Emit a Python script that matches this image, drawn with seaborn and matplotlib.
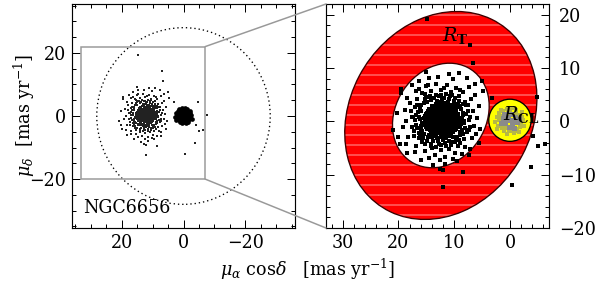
import numpy as np
import matplotlib
matplotlib.use("Agg")
import matplotlib.pyplot as plt
from matplotlib.patches import Ellipse, Rectangle, Circle, ConnectionPatch
import seaborn as sns

# proper motions of field stars (mas/yr)
field_x = [12.1, 13.0, 11.4,
           10.6, 11.3, 11.9, 12.6, 13.2, 13.9,
           9.9, 10.5, 11.1, 11.8, 12.4, 13.0, 13.6, 14.3,
           9.5, 10.1, 10.8, 11.4, 12.0, 12.6, 13.2, 13.8, 14.5, 15.1,
           9.2, 9.8, 10.5, 11.1, 11.7, 12.3, 12.9, 13.5, 14.1, 14.8, 15.4,
           9.0, 9.6, 10.2, 10.9, 11.5, 12.1, 12.7, 13.3, 13.9, 14.5, 15.2,
           9.1, 9.7, 10.4, 11.0, 11.6, 12.2, 12.8, 13.4, 14.0, 14.7, 15.4,
           9.3, 9.9, 10.6, 11.2, 11.8, 12.4, 13.0, 13.6, 14.3, 15.0,
           9.6, 10.2, 10.9, 11.5, 12.1, 12.7, 13.3, 14.0, 14.7,
           10.0, 10.7, 11.3, 11.9, 12.5, 13.2, 13.9, 14.5,
           10.6, 11.3, 11.9, 12.6, 13.3, 13.9,
           11.6, 12.4, 13.1,
           11.0, 11.7, 12.3, 13.5,
           10.2, 10.9, 11.6, 12.2, 12.9, 13.6, 14.2,
           9.7, 10.4, 11.0, 11.7, 12.3, 12.9, 13.5, 14.1, 14.8,
           9.4, 10.0, 10.7, 11.3, 11.9, 12.5, 13.1, 13.8, 14.4, 15.0,
           9.3, 9.9, 10.6, 11.2, 11.8, 12.4, 13.0, 13.6, 14.3, 14.9, 15.6,
           9.4, 10.0, 10.6, 11.2, 11.9, 12.5, 13.1, 13.7, 14.3, 15.0,
           9.5, 10.1, 10.8, 11.4, 12.0, 12.6, 13.2, 13.9, 14.5, 15.2,
           9.7, 10.3, 11.0, 11.6, 12.2, 12.9, 13.5, 14.1, 14.8,
           10.1, 10.8, 11.4, 12.0, 12.7, 13.4, 14.0,
           10.8, 11.5, 12.2, 12.9, 13.6,
           11.2, 11.9, 12.8,
           16.2, 16.0, 16.5, 15.9, 15.3, 14.6, 13.7, 12.8, 11.9, 10.9, 10.1, 9.3, 8.7, 8.4, 8.2, 8.6,
           9.0, 9.7, 10.5, 11.6, 12.8, 13.8, 14.7, 15.4, 16.8, 17.1, 16.6, 15.7, 14.2, 12.4, 10.6, 9.2,
           8.1, 7.6, 7.3, 7.7, 8.3, 9.4, 10.9, 12.3, 13.9, 15.2, 16.3, 17.3, 17.6, 17.9, 16.9, 15.0,
           13.2, 11.3, 9.6, 8.4, 7.0, 6.6, 6.4, 6.9, 8.0, 9.8, 11.6, 13.4, 15.3, 16.8, 18.2, 18.6, 18.9,
           16.8, 16.1, 15.6, 14.9, 14.1, 13.1, 12.2, 11.1, 10.0, 9.3, 8.6, 8.9, 8.4, 9.5, 10.2,
           11.0, 12.0, 12.9, 13.9, 14.6, 15.8, 16.4, 17.4, 15.3, 10.4, 7.9, 7.2, 9.0, 14.2, 17.6,
           16.0, 16.3, 15.9, 16.1, 15.5, 15.7, 16.6, 17.0, 16.7, 8.8, 8.5, 8.9, 8.2, 8.9, 8.0,
           7.8, 8.4, 9.1, 9.9, 10.7, 11.5, 12.4, 13.3, 14.3, 15.0, 9.8, 10.6, 11.4, 12.3, 13.2,
           14.1, 14.9, 15.8, 9.2, 17.2, 17.8, 7.1, 7.4, 7.5, 8.9, 11.9, 14.7, 16.3, 18.4, 19.2,
           18.7, 17.1, 14.6, 12.5, 10.3, 8.6, 7.2, 6.1, 5.9, 6.3, 7.3, 10.2, 12.9, 17.6, 20.1,
           14.6, 11.0, 7.7, 16.4, 6.2, 19.5, 20.3, 20.9, 19.8, 18.4, 16.0, 13.8, 11.6, 9.5, 7.3, 5.6,
           5.3, 5.5, 12.6, 15.0, 9.2, 4.8,
           14.8, 7.1, 6.6, 19.5, 5.0, 3.2, -4.8, -4.1, -5.0, -6.3, -3.7, -0.4, 8.4, 12.0, 12.1, -7.5]
field_y = [-2.9, -3.1, -3.2,
           -2.3, -2.5, -2.4, -2.2, -2.6, -2.4,
           -1.7, -1.9, -1.8, -1.6, -1.9, -1.7, -1.9, -1.7,
           -1.1, -1.3, -1.2, -1.0, -1.3, -1.1, -1.3, -1.0, -1.2, -1.1,
           -0.5, -0.7, -0.6, -0.4, -0.7, -0.5, -0.7, -0.5, -0.6, -0.4, -0.6,
           0.1, -0.1, 0.1, 0.0, 0.2, -0.1, 0.1, -0.1, 0.2, 0.0, 0.1,
           0.7, 0.5, 0.7, 0.6, 0.8, 0.5, 0.7, 0.6, 0.8, 0.5, 0.7,
           1.3, 1.1, 1.2, 1.4, 1.1, 1.3, 1.2, 1.4, 1.1, 1.3,
           1.9, 1.7, 1.9, 1.8, 2.0, 1.7, 1.9, 1.8, 2.0,
           2.5, 2.3, 2.5, 2.4, 2.6, 2.3, 2.5, 2.4,
           3.1, 2.9, 3.1, 3.0, 3.2, 2.9,
           3.5, 3.7, 3.6,
           -2.8, -2.7, -2.9, -2.8,
           -2.0, -2.2, -2.1, -2.0, -2.2, -2.3, -2.0,
           -1.5, -1.4, -1.6, -1.4, -1.5, -1.4, -1.6, -1.4, -1.5,
           -0.9, -1.0, -0.8, -0.9, -1.0, -0.8, -0.9, -0.8, -0.9, -0.8,
           -0.3, -0.2, -0.4, -0.2, -0.3, -0.2, -0.4, -0.2, -0.3, -0.2, -0.3,
           0.3, 0.4, 0.2, 0.4, 0.3, 0.4, 0.2, 0.4, 0.3, 0.4,
           0.9, 0.8, 1.0, 0.9, 0.8, 1.0, 0.9, 1.0, 0.8, 1.0,
           1.5, 1.6, 1.5, 1.6, 1.5, 1.6, 1.4, 1.6, 1.5,
           2.1, 2.2, 2.1, 2.2, 2.1, 2.2, 2.1,
           2.7, 2.8, 2.7, 2.8, 2.6,
           3.3, 3.4, 3.3,
           0.4, -1.5, 1.8, 3.0, 4.2, 4.6, 4.3, 4.8, 4.4, 4.1, 3.8, 3.3, 2.4, 1.1, -0.3, -1.6,
           -2.6, -3.3, -3.9, -4.1, -4.2, -3.7, -3.0, -2.3, -0.6, 2.6, 4.1, 5.3, 5.7, 5.9, 5.5, 4.8,
           3.7, 1.9, 0.2, -2.0, -3.4, -4.6, -5.1, -5.4, -5.0, -4.3, -3.2, -1.8, 0.8, 3.5, 5.6, 6.6,
           7.0, 6.8, 6.3, 5.5, 4.1, 2.0, -0.9, -3.2, -4.9, -6.0, -6.6, -6.3, -5.6, -4.6, -2.9, 0.1, 2.2,
           1.2, 2.4, -3.2, 3.6, 4.0, 3.9, 4.2, 3.6, 3.1, 2.6, 0.4, -1.0, -2.3, -2.9, -3.0,
           -3.6, -3.5, -3.6, -3.0, -2.5, -0.4, -2.2, 0.9, 5.1, 5.0, 3.0, -1.0, -4.0, -4.7, -1.1,
           -0.9, 0.9, 2.0, -2.6, 3.4, -1.8, -1.3, 0.3, 3.0, -0.5, 1.6, 2.9, 0.0, -2.0, -1.2,
           1.3, 3.2, 3.9, 4.4, 4.7, 5.1, 4.9, 5.0, 4.8, 4.5, -3.8, -4.4, -4.7, -4.5, -4.9,
           -4.2, -3.7, -3.8, -3.5, -2.7, 1.9, 0.9, -1.7, 3.0, 5.9, 6.3, 6.9, 6.1, 4.4, -1.0,
           -4.3, -5.8, -6.8, -7.2, -7.0, -6.2, -5.1, -2.4, 0.6, 4.9, 6.4, 8.0, 8.4, 6.8, -2.9,
           8.2, 8.8, 8.1, 7.6, 7.0, 5.3, 1.5, -1.6, -4.2, -6.0, -7.3, -8.2, -8.0, -7.4, -6.3, -4.1,
           -1.5, 2.9, -8.9, 9.2, 9.0, 5.6,
           19.2, 14.4, 11.0, 6.0, 7.5, 4.3, 4.5, -2.8, -4.7, -4.3, -8.6, -12.0, -9.5, -9.2, -12.4, 0.3]

# cluster members (NGC6656)
clus_x = [0.0, 0.6, -0.6, 0.3, -0.3, 0.9, -0.9, 0.2, -0.2, 1.3, -1.3, 1.1, -1.1, 0.8, -0.8, 1.6,
          -1.6, 0.4, -0.5, 1.7, -1.7, 1.4, -1.3, 0.0, 0.1, 2.0, -2.0, 1.2, -1.0, 1.0, -1.2, 2.1,
          -2.1, 1.9, -1.8, 0.6, -0.4, 0.5, -0.7, 2.4, -2.4, 2.3, -2.2, 1.6, -1.6, 2.6, -2.6]
clus_y = [0.2, 0.3, 0.1, 0.9, -0.5, -0.4, 0.8, -1.1, 1.4, 0.6, -0.2, 1.3, 1.5, -1.3, -1.2, -0.3,
          0.5, 1.9, -1.8, 1.0, 1.2, -1.3, -1.4, 2.1, -1.9, 0.3, -0.3, 1.9, 2.1, -1.9, -1.9, -0.9,
          0.9, 1.6, -1.1, 2.4, 2.5, -2.3, -2.2, 0.9, 0.2, -1.4, 1.7, 2.1, -2.0, -0.2, -0.9]

zoom_x = (33, -7)
zoom_y = (-20, 22)

sns.set_theme(style="ticks")
plt.rcParams["font.family"] = ["DejaVu Serif"]
plt.rcParams["mathtext.fontset"] = "dejavuserif"
plt.rcParams["hatch.linewidth"] = 0.6
plt.rcParams["text.color"] = "black"
fs = 10.5

fig = plt.figure(figsize=(5, 2.4), dpi=120)
ax1 = fig.add_axes([0.12, 0.2083, 0.3717, 0.7778])
ax2 = fig.add_axes([0.5433, 0.2083, 0.3717, 0.7778])

for ax in (ax1, ax2):
    ax.set_facecolor("white")
    for sp in ax.spines.values():
        sp.set_linewidth(0.7)
        sp.set_color("black")
    ax.tick_params(which="both", direction="in", top=True, right=True, width=0.6,
                   labelsize=fs, colors="black")
    ax.tick_params(which="major", length=5)
    ax.tick_params(which="minor", length=2.5)

# left panel: full field
ax1.add_patch(Circle((0, 0), 28, fill=False, ls=(0, (1, 2.2)), lw=0.8, color="black"))
sns.scatterplot(x=field_x, y=field_y, ax=ax1, marker="s", s=0.8, color="#222222",
                linewidth=0, legend=False)
sns.scatterplot(x=clus_x, y=clus_y, ax=ax1, marker="o", s=8, color="black",
                linewidth=0, legend=False)
ax1.add_patch(Rectangle((zoom_x[1], zoom_y[0]), zoom_x[0] - zoom_x[1], zoom_y[1] - zoom_y[0],
                        fill=False, ec="#999999", lw=0.9))
ax1.set_xlim(36, -36)
ax1.set_ylim(-35.5, 35.5)
ax1.set_xticks([20, 0, -20])
ax1.set_yticks([20, 0, -20])
ax1.set_xticks(np.arange(-35, 36, 5), minor=True)
ax1.set_yticks(np.arange(-35, 36, 5), minor=True)
ax1.text(32.5, -30.8, "NGC6656", fontsize=fs)

# right panel: zoom with selection regions
ax2.add_patch(Ellipse((12.4, 1.1), 40.4, 32.8, angle=116.7, fc="#ff0000", ec="none", zorder=1))
ax2.add_patch(Ellipse((12.4, 1.1), 40.4, 32.8, angle=116.7, fill=False, ec="#ff9a9a",
                      lw=0, hatch="--", zorder=1.1))
ax2.add_patch(Ellipse((12.4, 1.1), 40.4, 32.8, angle=116.7, fill=False, ec="#3a0000",
                      lw=0.8, zorder=1.2))
ax2.add_patch(Ellipse((12.4, 1.1), 20.4, 16.4, angle=117.7, fc="white", ec="#3a0000",
                      lw=0.8, zorder=1.3))
ax2.add_patch(Ellipse((0, 0.2), 7.6, 7.9, fc="#ffff00", ec="black", lw=0.8, zorder=1.4))

cx = np.array(clus_x)
cy = np.array(clus_y)
core = np.hypot(cx, cy - 0.2) < 1.7
sns.scatterplot(x=cx[~core], y=cy[~core], ax=ax2, marker="s", s=5, color="#b7b845",
                linewidth=0, legend=False, zorder=2)
sns.scatterplot(x=cx[core], y=cy[core], ax=ax2, marker="s", s=9, color="#8a8a8a",
                linewidth=0, legend=False, zorder=2.1)
sns.scatterplot(x=field_x, y=field_y, ax=ax2, marker="s", s=3.4, color="black",
                linewidth=0, legend=False, zorder=3)
ax2.text(9.8, 15.0, r"$R_{\mathbf{T}}$", fontsize=fs + 1, ha="center", zorder=4)
ax2.text(1.3, 0.2, r"$R_{\mathbf{CL}}$", fontsize=fs + 1, ha="left", zorder=4)
ax2.set_xlim(*zoom_x)
ax2.set_ylim(*zoom_y)
ax2.set_xticks([30, 20, 10, 0])
ax2.set_yticks([20, 10, 0, -10, -20])
ax2.set_xticks(np.arange(-6, 33, 2), minor=True)
ax2.set_yticks(np.arange(-20, 23, 2), minor=True)
ax2.yaxis.tick_right()
ax2.tick_params(which="both", left=True, right=True, labelleft=False, labelright=True)
ax2.tick_params(axis="y", pad=6)

for corner_y in zoom_y[::-1]:
    con = ConnectionPatch(xyA=(zoom_x[1], corner_y), coordsA=ax1.transData,
                          xyB=(zoom_x[0], corner_y), coordsB=ax2.transData,
                          color="#999999", lw=0.9)
    fig.add_artist(con)

fig.text(0.02, 0.598, r"$\mu_\delta$  [mas yr$^{-1}$]", rotation=90, fontsize=fs,
         ha="left", va="center")
fig.text(0.512, 0.065, r"$\mu_\alpha$ cos$\delta$   [mas yr$^{-1}$]", fontsize=fs,
         ha="center", va="center")

fig.savefig("out.png", dpi=120)
